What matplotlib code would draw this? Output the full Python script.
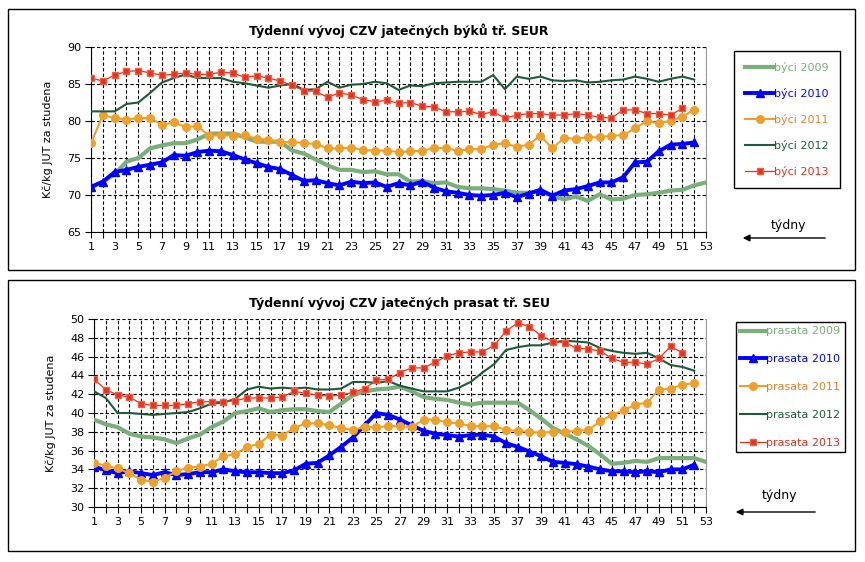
import matplotlib
matplotlib.use("Agg")
import matplotlib.pyplot as plt
from matplotlib.patches import Rectangle

# --- data: weekly prices (Kč/kg JUT za studena) ---
weeks = list(range(1, 54))
years = ["2009", "2010", "2011", "2012", "2013"]

byci_2009 = [71.0, 71.8, 72.8, 74.5, 75.0, 76.3, 76.7, 77.0, 77.0, 77.5,
             78.3, 78.3, 78.3, 77.8, 77.2, 77.2, 77.2, 76.0, 75.6, 74.8,
             74.0, 73.4, 73.4, 73.1, 73.2, 72.8, 72.8, 71.8, 71.9, 71.6,
             71.7, 71.1, 70.9, 70.9, 70.8, 70.6, 70.3, 70.3, 70.5, 69.9,
             69.4, 69.8, 69.2, 70.1, 69.4, 69.5, 70.0, 70.1, 70.3, 70.6,
             70.7, 71.3, 71.7]
byci_2010 = [71.1, 71.8, 73.1, 73.4, 73.8, 74.1, 74.4, 75.4, 75.3, 75.8,
             76.0, 75.9, 75.4, 74.8, 74.3, 73.8, 73.5, 72.7, 71.9, 72.0,
             71.6, 71.3, 71.8, 71.6, 71.7, 71.1, 71.6, 71.3, 71.8, 71.0,
             70.5, 70.3, 70.0, 69.9, 70.0, 70.3, 69.7, 70.2, 70.7, 69.9,
             70.6, 70.8, 71.2, 71.7, 71.7, 72.4, 74.4, 74.5, 75.9, 76.8,
             76.9, 77.1]
byci_2011 = [77.0, 80.8, 80.4, 80.2, 80.4, 80.4, 79.5, 79.8, 79.2, 79.3,
             78.0, 78.1, 78.0, 78.1, 77.6, 77.5, 77.1, 77.2, 77.0, 76.9,
             76.3, 76.3, 76.4, 76.1, 76.0, 76.0, 75.8, 75.9, 76.0, 76.3,
             76.4, 75.95, 76.2, 76.2, 76.8, 77.0, 76.5, 76.8, 78.0, 76.3,
             77.7, 77.6, 77.8, 77.8, 78.0, 78.1, 79.0, 80.0, 79.7, 80.0,
             80.6, 81.5]
byci_2012 = [81.3, 81.3, 81.3, 82.3, 82.5, 83.8, 85.2, 85.8, 86.3, 85.8,
             85.8, 85.8, 85.3, 85.1, 84.8, 84.5, 84.8, 85.0, 84.2, 84.3,
             85.3, 84.5, 84.9, 85.0, 85.3, 85.1, 84.2, 84.8, 84.7, 85.1,
             85.2, 85.3, 85.3, 85.3, 86.2, 84.3, 86.0, 85.7, 86.0, 85.5,
             85.4, 85.5, 85.2, 85.3, 85.5, 85.6, 86.0, 85.7, 85.3, 85.7,
             86.0, 85.6]
byci_2013 = [85.8, 85.4, 86.2, 86.7, 86.8, 86.5, 86.2, 86.3, 86.5, 86.3,
             86.3, 86.6, 86.5, 85.9, 86.1, 85.8, 85.4, 84.8, 84.1, 84.0,
             83.2, 83.8, 83.5, 82.9, 82.6, 82.8, 82.4, 82.5, 82.0, 81.9,
             81.25, 81.25, 81.3, 80.9, 81.25, 80.4, 80.8, 81.0, 81.0, 80.8,
             80.8, 81.0, 80.8, 80.5, 80.4, 81.5, 81.5, 81.0, 81.0, 80.8,
             81.7]

prasata_2009 = [39.3, 38.8, 38.5, 37.8, 37.5, 37.4, 37.2, 36.8, 37.3, 37.7,
                38.5, 39.1, 40.0, 40.2, 40.5, 40.1, 40.3, 40.4, 40.4, 40.2,
                40.1, 41.0, 41.9, 42.3, 42.5, 42.6, 42.8, 42.3, 41.7, 41.5,
                41.4, 41.1, 40.9, 41.1, 41.1, 41.1, 41.1, 40.3, 39.4, 38.4,
                37.8, 37.2, 36.5, 35.6, 34.6, 34.7, 34.9, 34.8, 35.2, 35.2,
                35.2, 35.2, 34.8]
prasata_2010 = [34.3, 33.9, 33.6, 33.8, 33.6, 33.4, 33.7, 33.4, 33.5, 33.7,
                33.7, 34.0, 33.8, 33.7, 33.7, 33.6, 33.6, 33.9, 34.6, 34.7,
                35.5, 36.4, 37.4, 38.7, 40.0, 39.8, 39.3, 38.7, 38.1, 37.8,
                37.65, 37.5, 37.65, 37.7, 37.5, 36.8, 36.4, 35.9, 35.4, 34.8,
                34.7, 34.55, 34.3, 34.0, 33.8, 33.8, 33.7, 33.8, 33.7, 34.0,
                34.0, 34.5]
prasata_2011 = [34.7, 34.4, 34.1, 33.6, 32.9, 32.7, 33.1, 33.8, 34.2, 34.3,
                34.6, 35.4, 35.6, 36.4, 36.7, 37.7, 37.6, 38.4, 38.9, 38.9,
                38.7, 38.4, 38.2, 38.5, 38.5, 38.6, 38.6, 38.5, 39.3, 39.3,
                39.0, 38.9, 38.6, 38.6, 38.6, 38.2, 38.1, 38.0, 37.9, 38.0,
                38.0, 38.1, 38.2, 39.1, 39.8, 40.3, 40.9, 41.1, 42.5, 42.6,
                43.0, 43.2]
prasata_2012 = [42.3, 41.6, 40.0, 40.0, 39.9, 39.8, 39.9, 40.0, 40.1, 40.5,
                41.0, 41.1, 41.5, 42.5, 42.8, 42.6, 42.7, 42.6, 42.7, 42.5,
                42.5, 42.6, 43.3, 43.3, 43.2, 43.4, 42.9, 42.6, 42.3, 42.3,
                42.3, 42.7, 43.3, 44.3, 45.2, 46.7, 47.0, 47.2, 47.2, 47.5,
                47.7, 47.6, 47.5, 46.9, 46.6, 46.4, 46.3, 46.4, 45.8, 45.1,
                44.9, 44.5]
prasata_2013 = [43.6, 42.5, 41.9, 41.7, 41.0, 40.8, 40.8, 40.8, 41.0, 41.2,
                41.2, 41.2, 41.3, 41.6, 41.6, 41.6, 41.7, 42.3, 42.1, 41.9,
                41.8, 41.9, 42.2, 42.6, 43.5, 43.6, 44.3, 44.8, 44.8, 45.4,
                46.1, 46.4, 46.5, 46.5, 47.2, 48.7, 49.6, 49.2, 48.2, 47.6,
                47.5, 46.9, 46.8, 46.6, 45.8, 45.4, 45.4, 45.2, 45.8, 47.1,
                46.4]

# series styles (one per year)
styles = [
    dict(color="#7aae7a", lw=3.0, marker=None),
    dict(color="#0000ff", lw=2.8, marker="^", ms=5.5),
    dict(color="#eea02a", lw=1.5, marker="o", ms=5.5),
    dict(color="#1d5b3c", lw=1.5, marker=None),
    dict(color="#e83020", lw=0.9, marker="s", ms=5, mec="#f06040"),
]
text_colors = ["#7aae7a", "#0000ff", "#e8802a", "#1d5b3c", "#e03020"]

W, H = 865, 562
fig = plt.figure(figsize=(W / 100, H / 100), dpi=100)


def px(x, y):
    return x / W, 1 - y / H


def panel(series, label, title, ylim, ystep, box, ax_rect, leg_xy, leg_kw, tyd_xy, arrow):
    # outer frame
    x0, y0, x1, y1 = box
    fig.patches.append(Rectangle((x0 / W, 1 - y1 / H), (x1 - x0) / W, (y1 - y0) / H,
                                 transform=fig.transFigure, fill=False,
                                 edgecolor="black", lw=1.0))
    l, t, r, b = ax_rect
    ax = fig.add_axes([l / W, 1 - b / H, (r - l) / W, (b - t) / H])

    for i, vals in enumerate(series):
        st = styles[i]
        ax.plot(weeks[:len(vals)], vals, color=st["color"], lw=st["lw"],
                marker=st["marker"], markersize=st.get("ms", 0),
                markeredgecolor=st.get("mec", st["color"]),
                label=label + " " + years[i], zorder=3 + i)

    ax.set_xlim(1, 53)
    ax.set_ylim(*ylim)
    ax.set_xticks(weeks)
    ax.set_xticklabels([str(w) if w % 2 == 1 else "" for w in weeks], fontsize=8)
    yt = list(range(ylim[0], ylim[1] + 1, ystep))
    ax.set_yticks(yt)
    ax.set_yticklabels([str(v) for v in yt], fontsize=8)
    ax.tick_params(direction="out", length=4, width=0.8, pad=3)
    ax.grid(True, color="black", linestyle=(0, (3, 2)), linewidth=0.8)
    ax.set_axisbelow(True)
    ax.spines["top"].set_visible(False)
    ax.spines["right"].set_color("#999999")
    ax.set_ylabel("Kč/kg JUT za studena", fontsize=8, labelpad=10)
    ax.set_title(title, fontsize=9, fontweight="bold", pad=9)

    leg = ax.legend(loc="upper left", bbox_to_anchor=px(*leg_xy),
                    bbox_transform=fig.transFigure, fontsize=8,
                    frameon=True, fancybox=False, framealpha=1, edgecolor="black",
                    handletextpad=0.0, borderaxespad=0, **leg_kw)
    leg.get_frame().set_linewidth(1.0)
    for txt, c in zip(leg.get_texts(), text_colors):
        txt.set_color(c)

    fig.text(*px(*tyd_xy), "týdny", fontsize=9, ha="center", va="center")
    ax.annotate("", xy=px(arrow[0], arrow[2]), xytext=px(arrow[1], arrow[2]),
                xycoords="figure fraction", textcoords="figure fraction",
                arrowprops=dict(arrowstyle="-|>", color="black", lw=1.0,
                                mutation_scale=10))
    return ax


panel([byci_2009, byci_2010, byci_2011, byci_2012, byci_2013], "býci",
      "Týdenní vývoj CZV jatečných býků tř. SEUR", (65, 90), 5,
      (8, 9, 855, 270), (91, 47, 706, 232), (734, 51),
      dict(handlelength=2.6, labelspacing=1.35, borderpad=1.0),
      (788, 225), (740, 828, 238))

panel([prasata_2009, prasata_2010, prasata_2011, prasata_2012, prasata_2013], "prasata",
      "Týdenní vývoj CZV jatečných prasat tř. SEU", (30, 50), 2,
      (8, 280, 855, 551), (94, 319, 706, 507), (736, 322),
      dict(handlelength=2.3, labelspacing=1.6, borderpad=0.4),
      (779, 496), (733, 818, 512))

fig.savefig("out.png", dpi=100)
